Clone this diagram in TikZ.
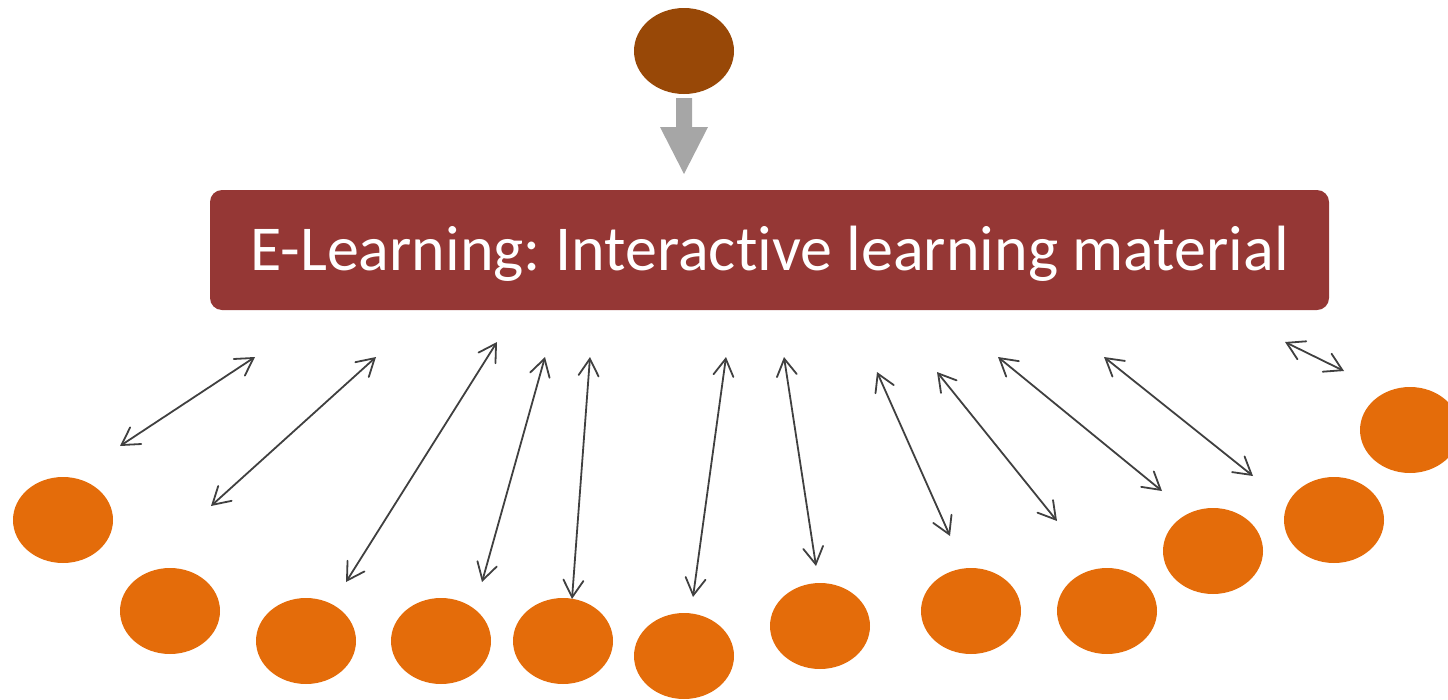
\documentclass[tikz,border=0pt]{standalone}
\usepackage{fontspec}
\setmainfont[Ligatures=NoCommon]{Carlito}
\usetikzlibrary{arrows.meta,shapes.geometric}
\frenchspacing
\definecolor{topbrown}{HTML}{984807}
\definecolor{boxred}{HTML}{953735}
\definecolor{dotorange}{HTML}{E46C0A}
\definecolor{arrgray}{HTML}{A6A6A6}
\definecolor{linkgray}{HTML}{404040}
\tikzset{
  dot/.style={ellipse, minimum width=100pt, minimum height=86pt, inner sep=0pt, fill=dotorange},
  link/.style={draw=linkgray, line width=1.8pt, {Straight Barb[length=17pt,width=20pt,line cap=round]}-{Straight Barb[length=17pt,width=20pt,line cap=round]}},
}
\begin{document}
\begin{tikzpicture}[x=1pt,y=-1pt]
\useasboundingbox (0,0) rectangle (1448,699);
% top ellipse
\node[ellipse, minimum width=100pt, minimum height=86pt, inner sep=0pt, fill=topbrown] (top) at (684,51) {};
% gray block arrow
\fill[arrgray] (676,98) -- (692,98) -- (692,127) -- (708,127) -- (684,174) -- (660,127) -- (676,127) -- cycle;
% main box
\node[rectangle, rounded corners=12pt, fill=boxred, minimum width=1119pt, minimum height=120pt, inner sep=0pt] (box) at (769.5,250) {};
\node[text=white, inner sep=0pt, font=\fontsize{64}{70}\selectfont] (boxtext) at ([yshift=-4pt]box.center) {E-Learning: Interactive learning material};
% orange dots
\node[dot] (d1) at (63,520) {};
\node[dot] (d2) at (170,611) {};
\node[dot] (d3) at (306,641) {};
\node[dot] (d4) at (441,641) {};
\node[dot] (d5) at (563,641) {};
\node[dot] (d6) at (684,656) {};
\node[dot] (d7) at (820,626) {};
\node[dot] (d8) at (971,611) {};
\node[dot] (d9) at (1107,611) {};
\node[dot] (d10) at (1213,551) {};
\node[dot] (d11) at (1334,520) {};
\node[dot] (d12) at (1410,430) {};
% link endpoints
\coordinate (a1) at (120,446); \coordinate (b1) at (255,357);
\coordinate (a2) at (211,506); \coordinate (b2) at (376,357);
\coordinate (a3) at (346,582); \coordinate (b3) at (497,342);
\coordinate (a4) at (482,582); \coordinate (b4) at (545,357);
\coordinate (a5) at (572,599); \coordinate (b5) at (590,357);
\coordinate (a6) at (693,597); \coordinate (b6) at (726,357);
\coordinate (a7) at (816,566); \coordinate (b7) at (784,357);
\coordinate (a8) at (950,536); \coordinate (b8) at (877,372);
\coordinate (a9) at (1057,521); \coordinate (b9) at (937,372);
\coordinate (a10) at (1162,491); \coordinate (b10) at (998,357);
\coordinate (a11) at (1253,476); \coordinate (b11) at (1104,357);
\coordinate (a12) at (1344,371); \coordinate (b12) at (1285,342);
\foreach \i in {1,...,12} { \draw[link] (a\i) -- (b\i); }
\end{tikzpicture}
\end{document}
